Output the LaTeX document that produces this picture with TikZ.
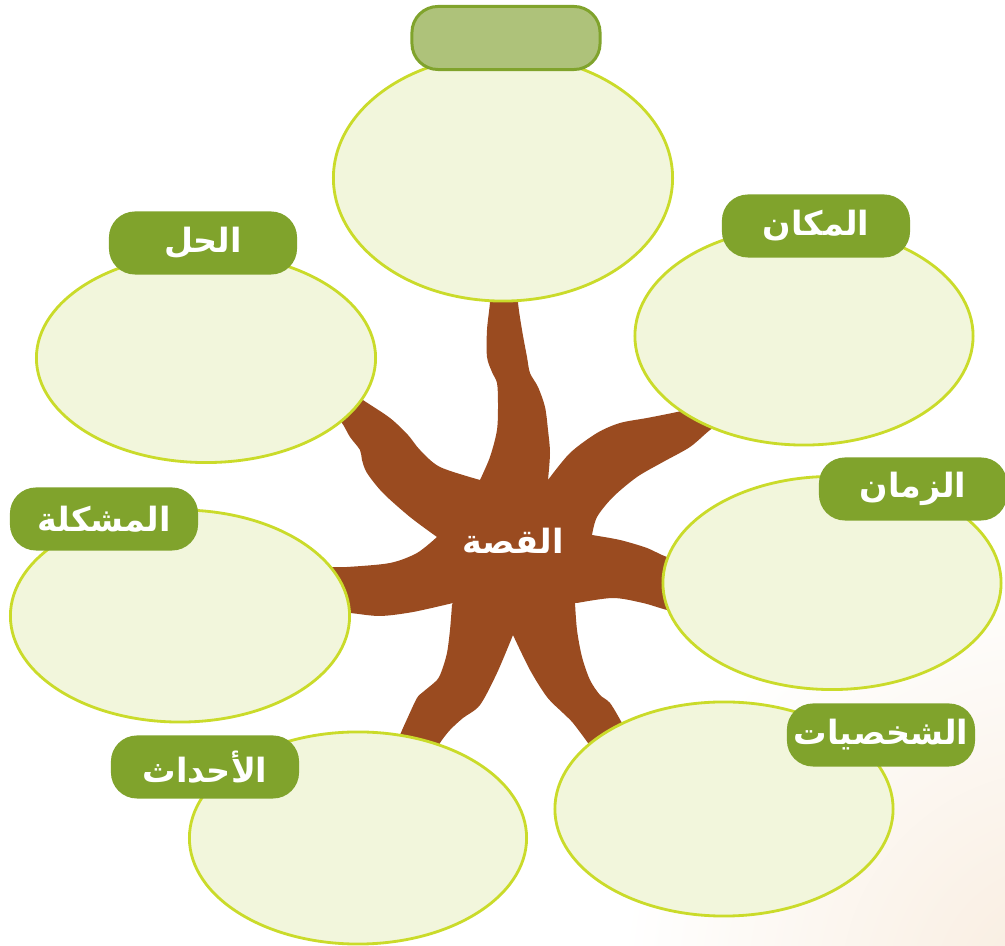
\documentclass[tikz,border=0pt]{standalone}
\usepackage{fontspec}
\newfontfamily\arabicfont[Script=Arabic]{DejaVu Sans}
\TeXXeTstate=1
\usepackage{tikz}
\usetikzlibrary{shapes}

\definecolor{trunk}{RGB}{154,75,32}
\definecolor{bubblefill}{RGB}{242,246,220}
\definecolor{bubbleline}{RGB}{202,219,42}
\definecolor{tagfill}{RGB}{128,163,44}
\definecolor{toptag}{RGB}{174,194,122}
\definecolor{peach}{RGB}{248,236,222}

\tikzset{
    bubble/.style={ellipse, draw=bubbleline, fill=bubblefill, line width=0.8pt, inner sep=0pt},
    tag/.style={rectangle, rounded corners=0.26cm, fill=tagfill, text=white, minimum width=1.88cm, minimum height=0.63cm, inner sep=0pt, font=\arabicfont\bfseries\fontsize{9.5}{11}\selectfont}
}

\begin{document}
\begin{tikzpicture}[x=0.01cm, y=-0.01cm]
        \useasboundingbox (0,0) rectangle (1005,946);

        % Background with warm corner
        \fill[white] (0,0) rectangle (1005,946);
        \begin{scope}
            \clip (0,0) rectangle (1005,946);
            \shade[inner color=peach, outer color=white] (1060,990) circle (4.4cm);
        \end{scope}

        % Trunk with seven branches
        \fill[trunk] plot[smooth] coordinates {(548,480) (570,453) (597,433) (620,423) (647,418) (677,412) (705,405)}
            -- plot[smooth] coordinates {(727,419) (710,430) (690,447) (663,462) (637,477) (613,497) (597,517) (592,535)}
            -- plot[smooth] coordinates {(592,535) (620,540) (647,548) (667,557) (695,563)}
            -- plot[smooth] coordinates {(695,616) (667,610) (643,603) (613,598) (577,603)}
            -- plot[smooth] coordinates {(575,603) (577,630) (582,657) (590,680) (600,695) (610,703) (622,723) (632,742)}
            -- plot[smooth] coordinates {(597,756) (588,743) (573,723) (563,713) (547,697) (530,670) (513,635)}
            -- plot[smooth] coordinates {(513,635) (497,673) (480,705) (463,718) (450,730) (440,743) (434,757)}
            -- plot[smooth] coordinates {(394,752) (400,735) (408,717) (417,698) (423,692) (437,680) (442,670) (447,653) (450,630) (452,605)}
            -- plot[smooth] coordinates {(453,603) (413,612) (380,616) (350,613) (328,612)}
            -- plot[smooth] coordinates {(330,567) (347,567) (390,563) (417,553) (437,537)}
            -- plot[smooth] coordinates {(437,537) (410,517) (383,493) (367,473) (362,460) (360,450) (350,437) (342,423) (330,410)}
            -- plot[smooth] coordinates {(350,390) (363,400) (390,418) (408,435) (420,450) (440,467) (480,480)}
            -- plot[smooth] coordinates {(480,480) (490,457) (497,430) (498,403) (497,383) (492,372) (487,357) (487,330) (490,302) (490,283)}
            -- plot[smooth] coordinates {(519,283) (518,302) (522,330) (527,357) (530,373) (538,387) (545,407) (548,430) (550,453) (548,480)}
            -- cycle;

        % Bubbles
        \node[bubble, minimum width=3.39cm, minimum height=2.46cm] (topbubble) at (503,178) {};
        \node[bubble, minimum width=3.39cm, minimum height=2.09cm] (solution) at (206,358) {};
        \node[bubble, minimum width=3.38cm, minimum height=2.18cm] (place) at (804,336) {};
        \node[bubble, minimum width=3.38cm, minimum height=2.13cm] (time) at (832,583) {};
        \node[bubble, minimum width=3.39cm, minimum height=2.12cm] (problem) at (180,616) {};
        \node[bubble, minimum width=3.37cm, minimum height=2.12cm] (events) at (358,838) {};
        \node[bubble, minimum width=3.38cm, minimum height=2.14cm] (characters) at (724,809) {};

        % Labels
        \node[tag, fill=toptag, draw=tagfill, line width=0.85pt] (toptag) at (506,38) {};
        \node[tag] (solutiontag) at (203,243) {\beginR الحل\endR};
        \node[tag] (placetag) at (816,226) {\beginR المكان\endR};
        \node[tag] (timetag) at (913,489) {\beginR الزمان\endR};
        \node[tag] (problemtag) at (104,519) {\beginR المشكلة\endR};
        \node[tag] (eventstag) at (205,767) {\beginR الأحداث\endR};
        \node[tag] (characterstag) at (881,735) {\beginR الشخصيات\endR};

        % Centre
        \node[text=white, font=\arabicfont\bfseries\fontsize{9.5}{11}\selectfont] (story) at (513,541) {\beginR القصة\endR};
    \end{tikzpicture}
\end{document}
